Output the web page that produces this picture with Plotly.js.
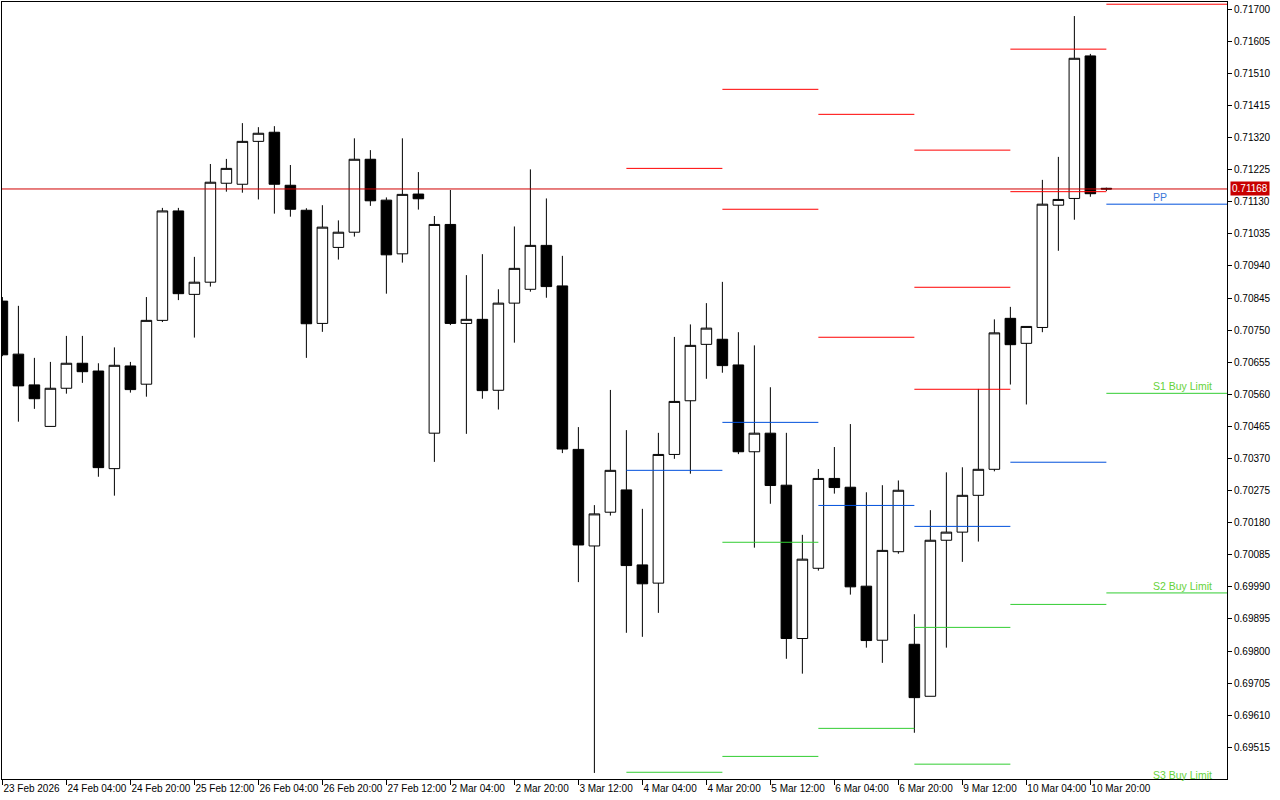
<!DOCTYPE html>
<html><head><meta charset="utf-8">
<script src="https://cdn.plot.ly/plotly-3.0.1.min.js"></script>
<style>html,body{margin:0;padding:0;background:#fff}#chart{width:1280px;height:800px}</style>
</head><body><div id="chart"></div>
<script>
// H4 candles, 23 Feb 2026 12:00 .. 11 Mar 2026 00:00
const times = [
 "23 Feb 12:00","23 Feb 16:00","23 Feb 20:00",
 "24 Feb 00:00","24 Feb 04:00","24 Feb 08:00","24 Feb 12:00","24 Feb 16:00","24 Feb 20:00",
 "25 Feb 00:00","25 Feb 04:00","25 Feb 08:00","25 Feb 12:00","25 Feb 16:00","25 Feb 20:00",
 "26 Feb 00:00","26 Feb 04:00","26 Feb 08:00","26 Feb 12:00","26 Feb 16:00","26 Feb 20:00",
 "27 Feb 00:00","27 Feb 04:00","27 Feb 08:00","27 Feb 12:00","27 Feb 16:00","27 Feb 20:00",
 "2 Mar 00:00","2 Mar 04:00","2 Mar 08:00","2 Mar 12:00","2 Mar 16:00","2 Mar 20:00",
 "3 Mar 00:00","3 Mar 04:00","3 Mar 08:00","3 Mar 12:00","3 Mar 16:00","3 Mar 20:00",
 "4 Mar 00:00","4 Mar 04:00","4 Mar 08:00","4 Mar 12:00","4 Mar 16:00","4 Mar 20:00",
 "5 Mar 00:00","5 Mar 04:00","5 Mar 08:00","5 Mar 12:00","5 Mar 16:00","5 Mar 20:00",
 "6 Mar 00:00","6 Mar 04:00","6 Mar 08:00","6 Mar 12:00","6 Mar 16:00","6 Mar 20:00",
 "9 Mar 00:00","9 Mar 04:00","9 Mar 08:00","9 Mar 12:00","9 Mar 16:00","9 Mar 20:00",
 "10 Mar 00:00","10 Mar 04:00","10 Mar 08:00","10 Mar 12:00","10 Mar 16:00","10 Mar 20:00",
 "11 Mar 00:00"
];
const open = [
 0.70836,0.70679,0.70588,0.70465,0.70578,0.70652,0.70629,0.70340,0.70644,0.70590,
 0.70779,0.71103,0.70856,0.70892,0.71185,0.71182,0.71309,0.71336,0.71179,0.71105,
 0.70770,0.70995,0.71040,0.71256,0.71135,0.70976,0.71153,0.70445,0.71063,0.70770,
 0.70782,0.70572,0.70830,0.70871,0.71001,0.70881,0.70397,0.70111,0.70211,0.70277,
 0.70055,0.70001,0.70382,0.70541,0.70708,0.70723,0.70647,0.70390,0.70445,0.70291,
 0.69837,0.70045,0.70311,0.70285,0.69992,0.69832,0.70094,0.69820,0.69666,0.70128,
 0.70152,0.70261,0.70338,0.70785,0.70711,0.70758,0.71120,0.71140,0.71562,0.71170
];
const high = [
 0.70848,0.70822,0.70668,0.70656,0.70733,0.70733,0.70652,0.70699,0.70656,0.70848,
 0.71112,0.71112,0.70967,0.71242,0.71257,0.71363,0.71351,0.71354,0.71239,0.71111,
 0.71120,0.71075,0.71318,0.71283,0.71143,0.71318,0.71218,0.71088,0.71165,0.70913,
 0.70975,0.70871,0.71057,0.71226,0.71140,0.70970,0.70463,0.70232,0.70573,0.70454,
 0.70221,0.70446,0.70730,0.70767,0.70830,0.70893,0.70744,0.70705,0.70581,0.70446,
 0.70144,0.70339,0.70404,0.70472,0.70270,0.70291,0.70305,0.69909,0.70217,0.70329,
 0.70344,0.70576,0.70782,0.70819,0.70761,0.71195,0.71263,0.71680,0.71568,0.71172
];
const low = [
 0.70673,0.70479,0.70517,0.70465,0.70562,0.70594,0.70316,0.70260,0.70565,0.70553,
 0.70774,0.70839,0.70728,0.70879,0.71160,0.71157,0.71137,0.71095,0.71086,0.70668,
 0.70745,0.70959,0.71027,0.71118,0.70858,0.70950,0.71107,0.70360,0.70765,0.70443,
 0.70547,0.70515,0.70713,0.70864,0.70846,0.70386,0.70004,0.69439,0.70201,0.69854,
 0.69842,0.69913,0.70369,0.70325,0.70606,0.70624,0.70383,0.70106,0.70236,0.69777,
 0.69733,0.70038,0.70266,0.69967,0.69810,0.69765,0.70088,0.69558,0.69666,0.69810,
 0.70064,0.70124,0.70332,0.70589,0.70530,0.70744,0.70985,0.71077,0.71145,0.71162
];
const close = [
 0.70677,0.70585,0.70547,0.70578,0.70652,0.70627,0.70343,0.70646,0.70574,0.70779,
 0.71103,0.70858,0.70892,0.71188,0.71229,0.71309,0.71333,0.71182,0.71108,0.70769,
 0.71055,0.71040,0.71256,0.71133,0.70973,0.71152,0.71139,0.71063,0.70770,0.70782,
 0.70571,0.70830,0.70933,0.71001,0.70879,0.70398,0.70114,0.70206,0.70335,0.70053,
 0.69999,0.70382,0.70539,0.70705,0.70756,0.70645,0.70390,0.70445,0.70290,0.69837,
 0.70072,0.70311,0.70284,0.69990,0.69831,0.70098,0.70276,0.69662,0.70128,0.70152,
 0.70261,0.70338,0.70742,0.70707,0.70761,0.71123,0.71137,0.71555,0.71154,0.71168
];
const currentPrice = 0.71168;

// x tick labels
const xTickAt = ["23 Feb 12:00","24 Feb 04:00","24 Feb 20:00","25 Feb 12:00","26 Feb 04:00","26 Feb 20:00",
 "27 Feb 12:00","2 Mar 04:00","2 Mar 20:00","3 Mar 12:00","4 Mar 04:00","4 Mar 20:00","5 Mar 12:00",
 "6 Mar 04:00","6 Mar 20:00","9 Mar 12:00","10 Mar 04:00","10 Mar 20:00"];
const xTickText = ["23 Feb 2026","24 Feb 04:00","24 Feb 20:00","25 Feb 12:00","26 Feb 04:00","26 Feb 20:00",
 "27 Feb 12:00","2 Mar 04:00","2 Mar 20:00","3 Mar 12:00","4 Mar 04:00","4 Mar 20:00","5 Mar 12:00",
 "6 Mar 04:00","6 Mar 20:00","9 Mar 12:00","10 Mar 04:00","10 Mar 20:00"];
// y tick labels
const yTicks = [0.69515,0.69610,0.69705,0.69800,0.69895,0.69990,0.70085,0.70180,0.70275,0.70370,
 0.70465,0.70560,0.70655,0.70750,0.70845,0.70940,0.71035,0.71130,0.71225,0.71320,0.71415,0.71510,0.71605,0.71700];

// daily pivot levels (start of each day)
const pivotDays = ["4 Mar 00:00","5 Mar 00:00","6 Mar 00:00","9 Mar 00:00","10 Mar 00:00","11 Mar 00:00"];
const R3 = [null,   null,   null,   0.71283,null,   null];
const R2 = [null,   0.71463,0.71389,0.70877,0.71582,null];
const R1 = [0.71229,0.71108,0.70729,0.70575,0.71160,0.71715];
const PP = [0.70335,0.70477,0.70231,0.70169,0.70359,0.71123];
const S1 = [0.69441,0.70122,0.69571,0.69870,0.69938,0.70563];
const S2 = [null,   0.69488,null,   0.69465,null,   0.69972];
const S3 = [null,   null,   null,   null,   null,   0.69412];

const xRange = [-0.025, 76.54];
const yRange = [0.694211, 0.717216];

const RED = '#ff0000', BLUE = '#0050dc', GREEN = '#32cd32';
const shapes = [];
function addLevels(arr, color) {
  arr.forEach((v, k) => {
    if (v === null) return;
    shapes.push({type:'line', xref:'x', yref:'y', layer:'above',
      x0: pivotDays[k], x1: (k < pivotDays.length - 1) ? pivotDays[k+1] : xRange[1],
      y0: v, y1: v, line:{color: color, width: 1}});
  });
}
addLevels(R3, RED); addLevels(R2, RED); addLevels(R1, RED);
addLevels(PP, BLUE);
addLevels(S1, GREEN); addLevels(S2, GREEN); addLevels(S3, GREEN);
shapes.push({type:'line', xref:'paper', yref:'y', x0:0, x1:1, y0:currentPrice, y1:currentPrice,
  line:{color:'#d00000', width:1}, layer:'above'});

const last = pivotDays.length - 1;
const labelFont = {family:'Liberation Sans, Arial, sans-serif', size:10.5};
const annotations = [
  {xref:'x', yref:'y', x:72.35, y:PP[last], text:'PP', showarrow:false, xanchor:'center', yanchor:'bottom',
   borderpad:0, font:Object.assign({}, labelFont, {color:'#3c78d8'})},
  {xref:'x', yref:'y', x:75.66, y:S1[last], text:'S1 Buy Limit', showarrow:false, xanchor:'right', yanchor:'bottom',
   borderpad:0, font:Object.assign({}, labelFont, {color:'#66d23a'})},
  {xref:'x', yref:'y', x:75.66, y:S2[last], text:'S2 Buy Limit', showarrow:false, xanchor:'right', yanchor:'bottom',
   borderpad:0, font:Object.assign({}, labelFont, {color:'#66d23a'})},
  {xref:'x', yref:'paper', x:75.66, y:0, yshift:-3, text:'S3 Buy Limit', showarrow:false, xanchor:'right', yanchor:'bottom',
   borderpad:0, font:Object.assign({}, labelFont, {color:'#66d23a'})},
  {xref:'paper', yref:'y', x:1, xshift:3, y:currentPrice, text:currentPrice.toFixed(5), showarrow:false,
   xanchor:'left', yanchor:'middle', bgcolor:'#c80000', borderpad:1,
   font:{family:'Liberation Sans, Arial, sans-serif', size:10, color:'#ffffff'}}
];

const trace = {
  type:'candlestick', x: times, open: open, high: high, low: low, close: close,
  increasing:{line:{color:'#000000', width:1}, fillcolor:'#ffffff'},
  decreasing:{line:{color:'#000000', width:1}, fillcolor:'#000000'},
  whiskerwidth:0, hoverinfo:'skip', showlegend:false
};

const layout = {
  width:1280, height:800,
  margin:{l:2, r:53, t:2, b:21, pad:0},
  paper_bgcolor:'#ffffff', plot_bgcolor:'#ffffff',
  showlegend:false, boxgap:0.34, boxgroupgap:0,
  font:{family:'Liberation Sans, Arial, sans-serif', size:10, color:'#000000'},
  xaxis:{type:'category', categoryorder:'array', categoryarray: times, range:xRange,
    rangeslider:{visible:false}, tickmode:'array', tickvals:xTickAt, ticktext:xTickText,
    tickangle:0, automargin:false,
    ticks:'outside', ticklen:5, tickcolor:'#000', tickwidth:1, ticklabelposition:'outside right',
    showline:true, mirror:true, linecolor:'#000', linewidth:1, showgrid:false, zeroline:false,
    tickfont:{size:10}, fixedrange:true},
  yaxis:{side:'right', range:yRange, tickmode:'array', tickvals:yTicks, ticktext:yTicks.map(v => v.toFixed(5)),
    ticks:'outside', ticklen:4, tickcolor:'#000', tickwidth:1, automargin:false,
    showline:true, mirror:true, linecolor:'#000', linewidth:1, showgrid:false, zeroline:false,
    tickfont:{size:10}, fixedrange:true},
  shapes: shapes, annotations: annotations
};

Plotly.newPlot('chart', [trace], layout, {staticPlot:true, displayModeBar:false});
</script>
</body></html>
